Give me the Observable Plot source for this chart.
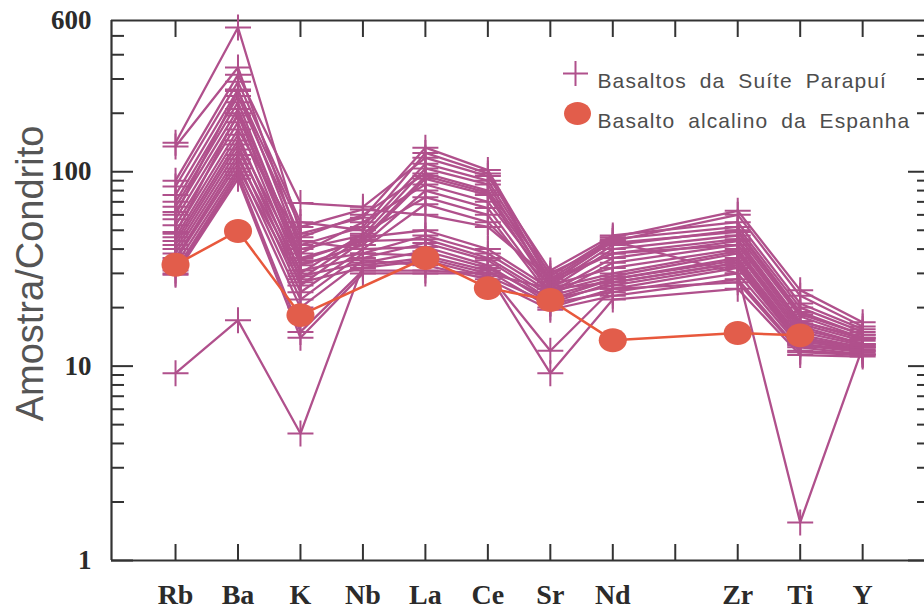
<!DOCTYPE html>
<html>
<head>
<meta charset="utf-8">
<script src="https://cdn.jsdelivr.net/npm/d3@7"></script>
<script src="https://cdn.jsdelivr.net/npm/@observablehq/plot@0.6"></script>
<style>
  body { margin: 0; background: #fff; }
</style>
</head>
<body>
<div id="chart"></div>
<script>
// Slots along the spider diagram (one slot left blank between Nd and Zr)
const tickLabels = ["Rb", "Ba", "K", "Nb", "La", "Ce", "Sr", "Nd", "", "Zr", "Ti", "Y"];
const elements = ["Rb", "Ba", "K", "Nb", "La", "Ce", "Sr", "Nd", "Zr", "Ti", "Y"];

// Chondrite-normalised values, Parapuí suite basalts (one row per sample)
const parapui = [
  [141, 552, 48, 58, 133, 102, 29, 46, 63, 24.6, 16.8],
  [135, 344, 42, 52, 125, 98, 27, 44, 60, 23, 16],
  [90, 316, 69, 66, 118, 95, 31, 47, 55, 21, 15.5],
  [84, 290, 55, 50, 110, 90, 28, 45, 52, 20, 15],
  [76, 265, 40, 47, 104, 86, 26, 42, 50, 19, 14.5],
  [70, 245, 46, 60, 98, 80, 30, 43, 49, 18.5, 14.5],
  [66, 228, 36, 44, 92, 76, 25, 40, 47, 18, 14],
  [62, 210, 38, 55, 86, 70, 27, 38, 45, 17, 13.8],
  [57, 195, 33, 42, 80, 65, 24, 36, 44, 16.5, 13.5],
  [53, 180, 30, 48, 74, 60, 23, 34, 42, 16, 13],
  [49, 165, 44, 40, 68, 55, 26, 32, 40, 15.5, 13],
  [46, 155, 28, 46, 50, 40, 25, 30, 39, 15, 12.8],
  [44, 145, 34, 38, 47, 38, 24, 29, 38, 14.5, 12.5],
  [42, 138, 26, 44, 45, 36, 23, 28, 36, 14, 12.5],
  [40, 130, 31, 36, 43, 35, 22, 28, 35, 13.8, 12.2],
  [38, 122, 24, 40, 41, 33, 21, 27, 34, 13.5, 12],
  [36, 116, 29, 34, 39, 32, 22, 26, 33, 13, 12],
  [35, 110, 22, 38, 37, 31, 20, 25, 32, 12.8, 11.8],
  [33, 104, 27, 32, 35, 29, 21, 24, 30, 12.5, 11.5],
  [31, 100, 20, 35, 33, 28, 19.5, 23, 28, 12, 11.5],
  [30, 96, 15, 31, 31, 30, 12, 25, 27, 11.8, 11.4],
  [29.5, 92, 14, 30, 30, 30, 9.2, 22, 25, 11.4, 11.2],
  [9.2, 17.2, 4.5, 33, 36, 30, 25, 27, 34, 13.2, 12.8],
  [48, 200, 35, 45, 95, 78, 27, 44, 30, 1.57, 12.5],
  [60, 260, 52, 64, 60, 52, 28, 38, 42, 17, 14]
];

// Alkaline basalt from Spain (no Nb or Y value)
const spain = [33.2, 49.6, 18.3, null, 36, 25.2, 21.9, 13.6, 14.8, 14.4, null];

const yMajor = [1, 10, 100];
const yMinor = [2, 3, 4, 5, 6, 7, 8, 9, 20, 30, 40, 50, 60, 70, 80, 90, 200, 300, 400, 500];
const yLabels = [1, 10, 100, 600];
const legendLabels = ["Basaltos da Suíte Parapuí", "Basalto alcalino da Espanha"];

const pink = "#b0508c";
const redLine = "#e8583c";
const redDot = "#e25d4b";
const axisColor = "#333";
const serif = "'Liberation Serif', 'Times New Roman', serif";

const slotOf = (el) => tickLabels.indexOf(el);
const parapuiRows = parapui.flatMap((vals, s) =>
  vals.map((v, i) => ({sample: s, slot: slotOf(elements[i]), value: v})));
const spainRows = spain
  .map((v, i) => ({slot: slotOf(elements[i]), value: v}))
  .filter((d) => d.value != null);

// Open "+" marker and slightly flattened disc
const plusSymbol = {
  draw(ctx, size) {
    const r = Math.sqrt(size / Math.PI);
    ctx.moveTo(-r, 0); ctx.lineTo(r, 0);
    ctx.moveTo(0, -r); ctx.lineTo(0, r);
  }
};
const ellipseSymbol = {
  draw(ctx, size) {
    const r = Math.sqrt(size / Math.PI), rx = r * 1.08, ry = r * 0.92, k = 0.5523;
    ctx.moveTo(rx, 0);
    ctx.bezierCurveTo(rx, ry * k, rx * k, ry, 0, ry);
    ctx.bezierCurveTo(-rx * k, ry, -rx, ry * k, -rx, 0);
    ctx.bezierCurveTo(-rx, -ry * k, -rx * k, -ry, 0, -ry);
    ctx.bezierCurveTo(rx * k, -ry, rx, -ry * k, rx, 0);
    ctx.closePath();
  }
};

const xDomain = [-1.025, 11.99];
const slots = d3.range(tickLabels.length);

const chart = Plot.plot({
  width: 924,
  height: 614,
  marginLeft: 111,
  marginRight: 0,
  marginTop: 20,
  marginBottom: 54,
  x: {domain: xDomain},
  y: {type: "log", domain: [1, 600]},
  style: {fontFamily: "'Liberation Sans', Arial, sans-serif", background: "#fff", overflow: "visible"},
  marks: [
    // frame: left, bottom and top edges
    Plot.ruleX([xDomain[0]], {stroke: axisColor, strokeWidth: 2.2}),
    Plot.ruleY([1], {stroke: axisColor, strokeWidth: 2.2}),
    Plot.ruleY([600], {stroke: axisColor, strokeWidth: 2.2}),

    // inward ticks on all four sides
    Plot.axisX(slots, {anchor: "bottom", tickSize: -16, fill: "none", label: null, stroke: axisColor, strokeWidth: 2}),
    Plot.axisX(slots, {anchor: "top", tickSize: -16, fill: "none", label: null, stroke: axisColor, strokeWidth: 2}),
    Plot.axisY(yMinor, {anchor: "left", tickSize: -13, fill: "none", label: null, stroke: axisColor, strokeWidth: 2}),
    Plot.axisY(yMajor, {anchor: "left", tickSize: -22, fill: "none", label: null, stroke: axisColor, strokeWidth: 2}),
    Plot.axisY(yMinor, {anchor: "right", tickSize: -8, fill: "none", label: null, stroke: axisColor, strokeWidth: 2}),
    Plot.axisY(yMajor, {anchor: "right", tickSize: -17, fill: "none", label: null, stroke: axisColor, strokeWidth: 2}),

    // tick labels
    Plot.axisX(slots, {
      anchor: "bottom", tickSize: 0, tickPadding: 24, label: null,
      tickFormat: (i) => tickLabels[i],
      fontSize: 28, fontWeight: "bold", fontFamily: serif, fill: "#2b2b2b"
    }),
    Plot.axisY(yLabels, {
      anchor: "left", tickSize: 0, tickPadding: 20, label: null,
      tickFormat: (d) => String(d),
      fontSize: 27, fontWeight: "bold", fontFamily: serif, fill: "#2b2b2b"
    }),
    Plot.text(["Amostra/Condrito"], {
      frameAnchor: "left", textAnchor: "middle", lineAnchor: "middle",
      rotate: -90, dx: -81, dy: -17,
      fontSize: 38, fill: "#555"
    }),

    // Parapuí suite basalts
    Plot.line(parapuiRows, {x: "slot", y: "value", z: "sample", stroke: pink, strokeWidth: 2.3}),
    Plot.dot(parapuiRows, {x: "slot", y: "value", symbol: plusSymbol, r: 13, fill: "none", stroke: pink, strokeWidth: 2}),

    // Spanish alkaline basalt
    Plot.line(spainRows, {x: "slot", y: "value", stroke: redLine, strokeWidth: 2.5}),
    Plot.dot(spainRows, {x: "slot", y: "value", symbol: ellipseSymbol, r: 13, fill: redDot, stroke: "none"}),

    // legend
    Plot.dot([legendLabels[0]], {frameAnchor: "top-left", dx: 464, dy: 53, symbol: plusSymbol, r: 12.5, fill: "none", stroke: pink, strokeWidth: 2}),
    Plot.dot([legendLabels[1]], {frameAnchor: "top-left", dx: 466, dy: 93, symbol: ellipseSymbol, r: 12.5, fill: redDot, stroke: "none"}),
    Plot.text(legendLabels.slice(0, 1), {frameAnchor: "top-left", textAnchor: "start", dx: 486, dy: 53, fontSize: 21, fill: "#4d4d4d"}),
    Plot.text(legendLabels.slice(1, 2), {frameAnchor: "top-left", textAnchor: "start", dx: 486, dy: 93, fontSize: 21, fill: "#4d4d4d"})
  ]
});

// wider letter and word spacing in the legend entries
d3.select(chart).selectAll("text")
  .filter(function () { return legendLabels.includes(this.textContent); })
  .style("letter-spacing", "1.1px")
  .style("word-spacing", "6px");

document.getElementById("chart").appendChild(chart);
</script>
</body>
</html>
